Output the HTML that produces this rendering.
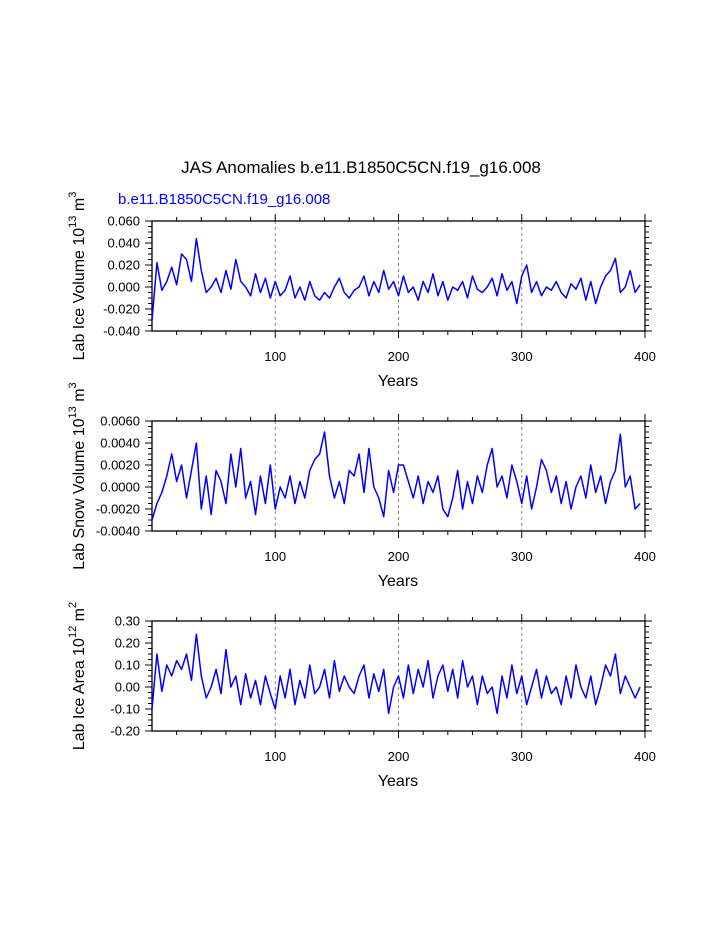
<!DOCTYPE html>
<html><head><meta charset="utf-8"><style>
body{margin:0;background:#fff}
svg{display:block;font-family:"Liberation Sans",Helvetica,sans-serif}
</style></head><body>
<svg id="c" width="723" height="935" viewBox="0 0 723 935">
<text x="361" y="173" text-anchor="middle" font-size="17">JAS Anomalies b.e11.B1850C5CN.f19_g16.008</text>
<text x="118" y="204" font-size="15" fill="#0000ff">b.e11.B1850C5CN.f19_g16.008</text>
</svg>
<script>
const years=[];for(let i=0;i<100;i++)years.push(i*4);
const iceVol=[-30,22,-3,5,18,2,30,25,5,44,15,-5,0,8,-5,15,-2,25,5,0,-8,12,-5,8,-10,5,-8,-3,10,-10,0,-12,5,-8,-12,-5,-10,0,8,-5,-10,-3,0,10,-8,5,-5,15,-2,5,-8,10,-5,0,-12,5,-5,12,-8,5,-12,0,-3,5,-10,10,-2,-5,0,8,-8,12,-3,5,-15,10,20,-5,5,-8,0,-3,5,-5,-10,3,-2,8,-12,5,-15,0,10,15,26,-5,0,15,-5,2];
const snowVol=[-30,-15,-5,10,30,5,20,-10,15,40,-20,10,-25,15,5,-15,30,0,35,-10,5,-25,10,-15,20,-20,0,-10,10,-15,5,-10,15,25,30,50,10,-10,5,-15,15,10,30,-5,35,0,-10,-27,15,-5,20,20,5,-10,10,-15,5,-5,10,-20,-27,-10,15,-20,5,-15,10,-5,20,35,0,10,-10,20,5,-15,10,-20,0,25,15,-5,10,-15,5,-20,0,10,-10,20,-5,10,-15,5,15,48,0,10,-20,-15];
const iceArea=[-10,15,-2,10,5,12,8,15,3,24,5,-5,0,8,-3,17,0,5,-8,6,-5,3,-8,5,-3,-10,5,-5,8,-8,3,-5,10,-3,0,8,-5,12,-2,5,0,-3,5,10,-5,6,-2,8,-12,0,5,-5,10,-3,8,0,12,-5,5,10,-2,8,-5,12,0,5,-8,5,-3,0,-12,5,-5,10,-3,5,-8,0,8,-5,5,-3,0,-8,5,-5,10,0,-5,5,-8,0,10,5,15,-3,5,0,-5,0];
const xTicks=[100,200,300,400];
const panels=[
 {top:221,data:iceVol,scale:0.001,min:-0.04,max:0.06,major:0.02,minor:0.005,dec:3,label:'Lab Ice Volume 10',exp:'13',unit:' m',uexp:'3',name:'ice-volume'},
 {top:421,data:snowVol,scale:0.0001,min:-0.004,max:0.006,major:0.002,minor:0.0005,dec:4,label:'Lab Snow Volume 10',exp:'13',unit:' m',uexp:'3',name:'snow-volume'},
 {top:621,data:iceArea,scale:0.01,min:-0.2,max:0.3,major:0.1,minor:0.025,dec:2,label:'Lab Ice Area 10',exp:'12',unit:' m',uexp:'2',name:'ice-area'}
];
const svg=document.getElementById('c');const NS='http://www.w3.org/2000/svg';
function mk(t,a,p){const e=document.createElementNS(NS,t);for(const k in a)e.setAttribute(k,a[k]);(p||svg).appendChild(e);return e;}
const L=152,R=645,H=110;
const xs=v=>L+(v/400)*(R-L);
panels.forEach(p=>{
 const g=mk('g',{});
 
 
 const B=p.top+H;const ys=v=>B-(v-p.min)/(p.max-p.min)*H;
 xTicks.slice(0,3).forEach(t=>{const l=mk('line',{x1:xs(t),x2:xs(t),y1:p.top,y2:B,stroke:'#888','stroke-dasharray':'3,3','stroke-width':1},g);
  });
 for(let t=20;t<=400;t+=20){const mj=t%100==0;const len=mj?7:4;
  mk('line',{x1:xs(t),x2:xs(t),y1:B,y2:B+len,stroke:'#000'},g);
  mk('line',{x1:xs(t),x2:xs(t),y1:p.top,y2:p.top-len,stroke:'#000'},g);}
 xTicks.forEach(t=>{const tx=mk('text',{x:xs(t),y:B+30,'font-size':13,'text-anchor':'middle'},g);tx.textContent=t;
  });
 const xt=mk('text',{x:398,y:B+55,'font-size':16,'text-anchor':'middle'},g);xt.textContent='Years';
 
 const nmin=Math.round((p.max-p.min)/p.minor);
 for(let k=0;k<=nmin;k++){const v=p.min+k*p.minor;const mj=Math.abs(v/p.major-Math.round(v/p.major))<1e-6;const len=mj?7:4;const y=ys(v);
  mk('line',{x1:L,x2:L-len,y1:y,y2:y,stroke:'#000'},g);
  mk('line',{x1:R,x2:R+len,y1:y,y2:y,stroke:'#000'},g);
  if(mj){const tx=mk('text',{x:L-12,y:y+4.5,'font-size':13,'text-anchor':'end'},g);tx.textContent=(Math.abs(v)<1e-9?0:v).toFixed(p.dec);
   }}
 mk('rect',{x:L,y:p.top,width:R-L,height:H,fill:'none',stroke:'#000','stroke-width':1.3},g);
 const yt=mk('text',{transform:`translate(84,${p.top+55}) rotate(-90)`,'font-size':16,'text-anchor':'middle'},g);
 
 yt.innerHTML=`${p.label}<tspan font-size="11" dy="-8">${p.exp}</tspan><tspan dy="8">${p.unit}</tspan><tspan font-size="11" dy="-8">${p.uexp}</tspan>`;
 const pts=p.data.map((v,i)=>xs(years[i])+','+ys(v*p.scale)).join(' ');
 const pl=mk('polyline',{points:pts,fill:'none',stroke:'#0000ff','stroke-width':1.5,'stroke-linejoin':'round'},g);
 
});
</script>
</body></html>
